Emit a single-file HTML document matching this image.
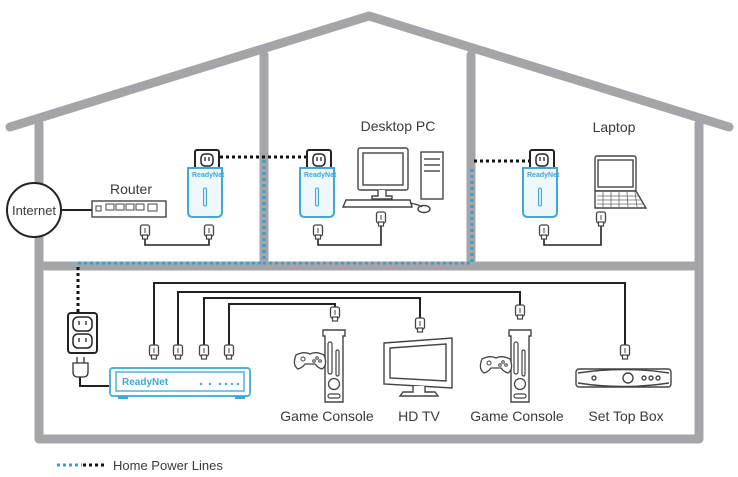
<!DOCTYPE html>
<html><head><meta charset="utf-8"><style>
html,body{margin:0;padding:0;background:#fff;}
svg{display:block;}
text{font-family:"Liberation Sans",sans-serif;fill:#3a3a3a;}
</style></head><body>
<svg width="738" height="477" viewBox="0 0 738 477" xmlns="http://www.w3.org/2000/svg">
<defs>
<g id="plug">
  <rect x="-4.5" y="0" width="9" height="11" rx="2" fill="#fff" stroke="#444" stroke-width="1.3"/>
  <rect x="-2.5" y="10" width="5" height="4" fill="#fff" stroke="#444" stroke-width="1.2"/>
  <line x1="0" y1="3" x2="0" y2="8" stroke="#444" stroke-width="1"/>
</g>
<g id="adapter">
  <rect x="7" y="0" width="24" height="22" rx="2" fill="#fff" stroke="#222" stroke-width="2"/>
  <rect x="13" y="4" width="12" height="12" rx="4" fill="#fff" stroke="#222" stroke-width="1.5"/>
  <line x1="17" y1="7" x2="17" y2="11" stroke="#222" stroke-width="1.3"/>
  <line x1="21" y1="7" x2="21" y2="11" stroke="#222" stroke-width="1.3"/>
  <path d="M0 18 H34 V62 Q34 67 29 67 H5 Q0 67 0 62 Z" fill="#eef8fc" stroke="#3fa9d6" stroke-width="2"/>
  <text x="4" y="27" style="font-size:7px;font-weight:bold;fill:#3fa9d6">ReadyNet</text>
  <rect x="15.5" y="38" width="3" height="18" rx="1.5" fill="#d6eef8" stroke="#3fa9d6" stroke-width="1"/>
</g>
<g id="console">
  <path d="M0 0 H22 V6 H20 V72 H2 V6 H0 Z" fill="#fff" stroke="#444" stroke-width="1.4"/>
  <rect x="5" y="12" width="4" height="32" rx="2" fill="none" stroke="#444" stroke-width="1.2"/>
  <rect x="13" y="20" width="3" height="26" rx="1.5" fill="none" stroke="#444" stroke-width="1.2"/>
  <circle cx="11" cy="54" r="5.5" fill="none" stroke="#444" stroke-width="1.3"/>
  <rect x="5" y="64" width="12" height="4" rx="2" fill="none" stroke="#444" stroke-width="1.2"/>
</g>
<g id="ctrl">
  <path d="M2 4 Q10 0 16 3 Q22 0 30 4 Q34 14 28 18 Q24 17 21 13 H11 Q8 17 4 18 Q-2 14 2 4 Z" fill="#fff" stroke="#444" stroke-width="1.3"/>
  <circle cx="9" cy="8" r="2" fill="none" stroke="#444"/>
  <circle cx="23" cy="7" r="1.3" fill="none" stroke="#444"/>
  <circle cx="26" cy="10" r="1.3" fill="none" stroke="#444"/>
  <circle cx="20" cy="10" r="1.3" fill="none" stroke="#444"/>
</g>
</defs>

<!-- house -->
<g stroke="#a4a5a8" stroke-width="9" fill="none" stroke-linecap="round" stroke-linejoin="round">
  <polyline points="10,127 369,16 729,127"/>
  <polyline points="39,124 39,439 699,439 699,124"/>
  <line x1="39" y1="266" x2="699" y2="266"/>
  <line x1="264" y1="55" x2="264" y2="266"/>
  <line x1="471" y1="55" x2="471" y2="266"/>
</g>

<!-- blue power lines -->
<g stroke="#3a9fd0" stroke-width="3" stroke-dasharray="3,3" fill="none">
  <polyline points="264,160 264,263 472,263 472,168"/>
  <line x1="78" y1="263" x2="264" y2="263"/>
</g>
<!-- black dotted -->
<g stroke="#111" stroke-width="3" stroke-dasharray="3,3" fill="none">
  <line x1="220" y1="157" x2="306" y2="157"/>
  <line x1="474" y1="161" x2="532" y2="161"/>
  <line x1="78" y1="267" x2="78" y2="312"/>
</g>

<!-- Internet + router -->
<circle cx="34" cy="210" r="27" fill="#fff" stroke="#222" stroke-width="2"/>
<text x="34" y="215" text-anchor="middle" style="font-size:13px">Internet</text>
<line x1="61" y1="210" x2="92" y2="210" stroke="#222" stroke-width="2"/>
<rect x="92" y="201" width="74" height="16" fill="#fff" stroke="#444" stroke-width="1.4"/>
<rect x="96" y="206" width="5" height="5" fill="none" stroke="#444"/>
<g fill="none" stroke="#444" stroke-width="1">
<path d="M106 204h8v6h-8z M116 204h8v6h-8z M126 204h8v6h-8z M136 204h8v6h-8z M148 204h9v7h-9z"/>
</g>
<text x="131" y="194" text-anchor="middle" style="font-size:14px">Router</text>

<!-- adapters -->
<use href="#adapter" x="188" y="150"/>
<use href="#adapter" x="300" y="150"/>
<use href="#adapter" x="523" y="150"/>

<!-- upper cables -->
<g stroke="#222" stroke-width="1.6" fill="none">
  <polyline points="145,238 145,245 209,245 209,238"/>
  <polyline points="318,238 318,245 381,245 381,226"/>
  <polyline points="544,238 544,245 601,245 601,226"/>
</g>
<use href="#plug" x="145" y="225"/>
<use href="#plug" x="209" y="225"/>
<use href="#plug" x="318" y="225"/>
<use href="#plug" x="381" y="212"/>
<use href="#plug" x="544" y="225"/>
<use href="#plug" x="601" y="212"/>

<!-- Desktop PC -->
<text x="398" y="131" text-anchor="middle" style="font-size:14px">Desktop PC</text>
<g fill="#fff" stroke="#444" stroke-width="1.4">
  <rect x="358" y="148" width="50" height="42" rx="2"/>
  <rect x="363" y="153" width="40" height="32"/>
  <path d="M378 190 v6 h-6 v3 h20 v-3 h-6 v-6"/>
  <path d="M346 200 L410 200 L412 207 L343 207 Z"/>
  <rect x="421" y="152" width="22" height="47"/>
  <line x1="424" y1="159" x2="440" y2="159"/><line x1="424" y1="165" x2="440" y2="165"/><line x1="424" y1="171" x2="440" y2="171"/>
  <ellipse cx="424" cy="209" rx="6" ry="3.5"/>
</g>
<path d="M410 203 Q420 205 422 207" fill="none" stroke="#444" stroke-width="1.2"/>

<!-- Laptop -->
<text x="614" y="132" text-anchor="middle" style="font-size:14px">Laptop</text>
<g fill="#fff" stroke="#444" stroke-width="1.4">
  <rect x="595" y="156" width="41" height="35" rx="2"/>
  <rect x="598" y="160" width="35" height="27"/>
  <path d="M595 191 L636 191 L646 208 L595 208 Z"/>
</g>
<g stroke="#666" stroke-width="0.8">
  <line x1="597" y1="196" x2="639" y2="196"/><line x1="597" y1="200" x2="642" y2="200"/><line x1="597" y1="204" x2="644" y2="204"/>
  <line x1="603" y1="192" x2="603" y2="207"/><line x1="611" y1="192" x2="611" y2="207"/><line x1="619" y1="192" x2="619" y2="207"/><line x1="627" y1="192" x2="628" y2="207"/><line x1="635" y1="192" x2="637" y2="207"/>
</g>

<!-- lower outlet & plug -->
<rect x="68" y="313" width="29" height="40" rx="3" fill="#fff" stroke="#222" stroke-width="2"/>
<rect x="73" y="317" width="19" height="14" rx="5" fill="#fff" stroke="#222" stroke-width="1.5"/>
<rect x="73" y="334" width="19" height="14" rx="5" fill="#fff" stroke="#222" stroke-width="1.5"/>
<g stroke="#222" stroke-width="1.3"><line x1="79" y1="321" x2="79" y2="325"/><line x1="86" y1="321" x2="86" y2="325"/><line x1="79" y1="338" x2="79" y2="342"/><line x1="86" y1="338" x2="86" y2="342"/></g>
<g fill="#fff" stroke="#333" stroke-width="1.3">
  <line x1="77" y1="357" x2="77" y2="363"/><line x1="84" y1="357" x2="84" y2="363"/>
  <path d="M73 363 H88 V372 Q88 377 83 377 H78 Q73 377 73 372 Z"/>
</g>
<polyline points="80,377 80,386 110,386" fill="none" stroke="#222" stroke-width="2"/>

<!-- ReadyNet box -->
<rect x="110" y="368" width="140" height="28" rx="3" fill="#fff" stroke="#4fb3dc" stroke-width="2"/>
<rect x="116" y="372" width="128" height="19" fill="#fff" stroke="#4fb3dc" stroke-width="1.5"/>
<text x="122" y="385" style="font-size:10px;font-weight:bold;fill:#3fa9d6">ReadyNet</text>
<g fill="#3fa9d6"><circle cx="201" cy="384" r="1.2"/><circle cx="210" cy="384" r="1.2"/><circle cx="220" cy="384" r="1.2"/><circle cx="226" cy="384" r="1.2"/><circle cx="232" cy="384" r="1.2"/><circle cx="238" cy="384" r="1.2"/></g>
<rect x="118" y="396" width="10" height="3" fill="#3fa9d6"/>
<rect x="235" y="396" width="10" height="3" fill="#3fa9d6"/>

<!-- lower cables -->
<g stroke="#222" stroke-width="2" fill="none">
  <polyline points="154,346 154,283 625,283 625,346"/>
  <polyline points="178,346 178,292 520,292 520,306"/>
  <polyline points="204,346 204,298 420,298 420,319"/>
  <polyline points="229,346 229,304 335,304 335,308"/>
</g>
<use href="#plug" x="154" y="345"/>
<use href="#plug" x="178" y="345"/>
<use href="#plug" x="204" y="345"/>
<use href="#plug" x="229" y="345"/>
<use href="#plug" x="335" y="307"/>
<use href="#plug" x="420" y="318"/>
<use href="#plug" x="520" y="305"/>
<use href="#plug" x="625" y="345"/>

<!-- consoles -->
<use href="#console" x="323" y="330"/>
<use href="#ctrl" x="294" y="351"/>
<use href="#console" x="509" y="330"/>
<use href="#ctrl" x="480" y="355"/>

<!-- HD TV -->
<g fill="#fff" stroke="#444" stroke-width="1.4">
  <path d="M384 343 L452 338 L452 388 L384 384 Z"/>
  <path d="M390 348 L446 344 L446 381 L390 378 Z"/>
  <path d="M413 386 v6 h-10 l-3 4 h38 l-3 -4 h-10 v-6"/>
</g>

<!-- set top box -->
<g fill="#fff" stroke="#444" stroke-width="1.4">
  <rect x="576" y="369" width="95" height="18" rx="3"/>
  <path d="M578 373 Q623 366 669 373 M578 383 Q623 390 669 383" fill="none"/>
  <circle cx="594" cy="378" r="2"/>
  <circle cx="628" cy="378" r="5"/>
  <circle cx="644" cy="378" r="2"/><circle cx="651" cy="378" r="2"/><circle cx="658" cy="378" r="2"/>
</g>

<!-- labels -->
<g style="font-size:14px">
<text x="327" y="421" text-anchor="middle">Game Console</text>
<text x="419" y="421" text-anchor="middle">HD TV</text>
<text x="517" y="421" text-anchor="middle">Game Console</text>
<text x="626" y="421" text-anchor="middle">Set Top Box</text>
</g>

<!-- legend -->
<line x1="57" y1="465" x2="82" y2="465" stroke="#3a9fd0" stroke-width="3" stroke-dasharray="3,3"/>
<line x1="83" y1="465" x2="107" y2="465" stroke="#111" stroke-width="3" stroke-dasharray="3,3"/>
<text x="113" y="470" style="font-size:13px">Home Power Lines</text>
</svg>
</body></html>
